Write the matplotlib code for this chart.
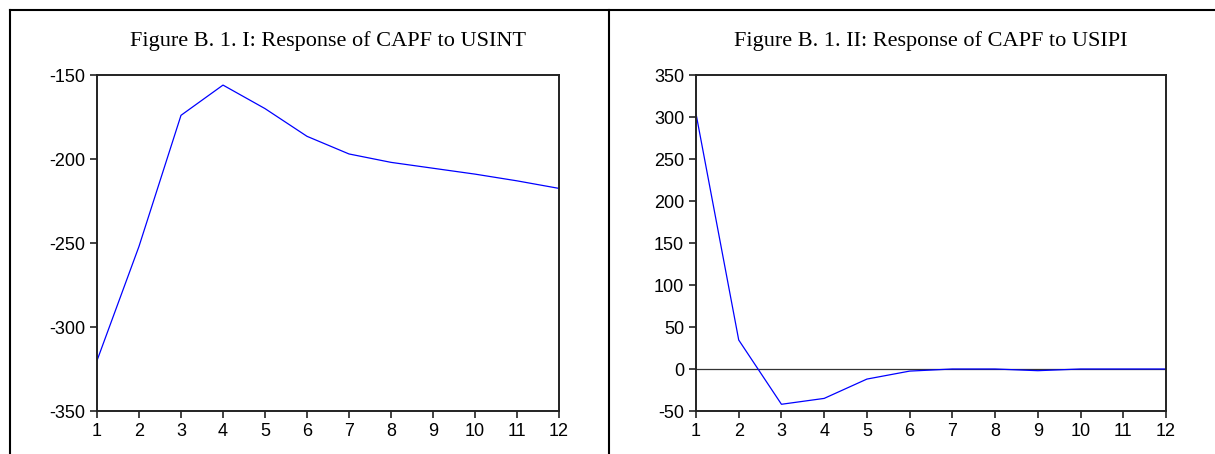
import matplotlib
matplotlib.use('Agg')
import matplotlib.pyplot as plt
from matplotlib.lines import Line2D

plt.rcParams['axes.unicode_minus'] = False

periods = [1, 2, 3, 4, 5, 6, 7, 8, 9, 10, 11, 12]

# Response of CAPF to USINT
usint_resp = [-320, -252, -174, -156, -170, -186.5, -197, -202, -205.5, -209, -213, -217.5]
# Response of CAPF to USIPI
usipi_resp = [304, 34.5, -42, -35, -12, -2.5, 0, 0, -2, 0, 0, 0]

title_left = 'Figure B. 1. I: Response of CAPF to USINT'
title_right = 'Figure B. 1. II: Response of CAPF to USIPI'

W, H = 1215, 454
fig = plt.figure(figsize=(W / 100, H / 100), dpi=100)


def px_rect(x0, y0, x1, y1):
    # pixel box (top-left origin) -> figure fraction rect
    return [x0 / W, 1 - y1 / H, (x1 - x0) / W, (y1 - y0) / H]


def style_axes(ax, ylim, yticks):
    ax.set_xlim(1, 12)
    ax.set_ylim(*ylim)
    ax.set_xticks(periods)
    ax.set_yticks(yticks)
    for s in ax.spines.values():
        s.set_linewidth(1.4)
        s.set_color('#222222')
    ax.tick_params(direction='out', length=5, width=1.2, color='#222222',
                   labelsize=13, pad=3.5, top=False, right=False)
    for lab in ax.get_xticklabels() + ax.get_yticklabels():
        lab.set_fontfamily('Liberation Sans')


ax1 = fig.add_axes(px_rect(97, 75, 559, 411))
ax1.plot(periods, usint_resp, color='#0000ff', lw=0.9)
style_axes(ax1, (-350, -150), [-350, -300, -250, -200, -150])

ax2 = fig.add_axes(px_rect(696, 75, 1166, 411))
ax2.axhline(0, color='#333333', lw=0.9)
ax2.plot(periods, usipi_resp, color='#0000ff', lw=0.9)
style_axes(ax2, (-50, 350), [-50, 0, 50, 100, 150, 200, 250, 300, 350])

fig.text((97 + 559) / 2 / W, 1 - 41 / H, title_left, ha='center', va='center',
         family='Liberation Serif', fontsize=16)
fig.text((696 + 1166) / 2 / W, 1 - 41 / H, title_right, ha='center', va='center',
         family='Liberation Serif', fontsize=16)

# table-like frame around the two panels
frame = dict(color='black', lw=1.5, transform=fig.transFigure)
fig.add_artist(Line2D([9.5 / W, 1], [1 - 10 / H, 1 - 10 / H], **frame))
fig.add_artist(Line2D([9.5 / W, 9.5 / W], [0, 1 - 10 / H], **frame))
fig.add_artist(Line2D([609 / W, 609 / W], [0, 1 - 10 / H], **frame))

fig.savefig('out.png', dpi=100)
